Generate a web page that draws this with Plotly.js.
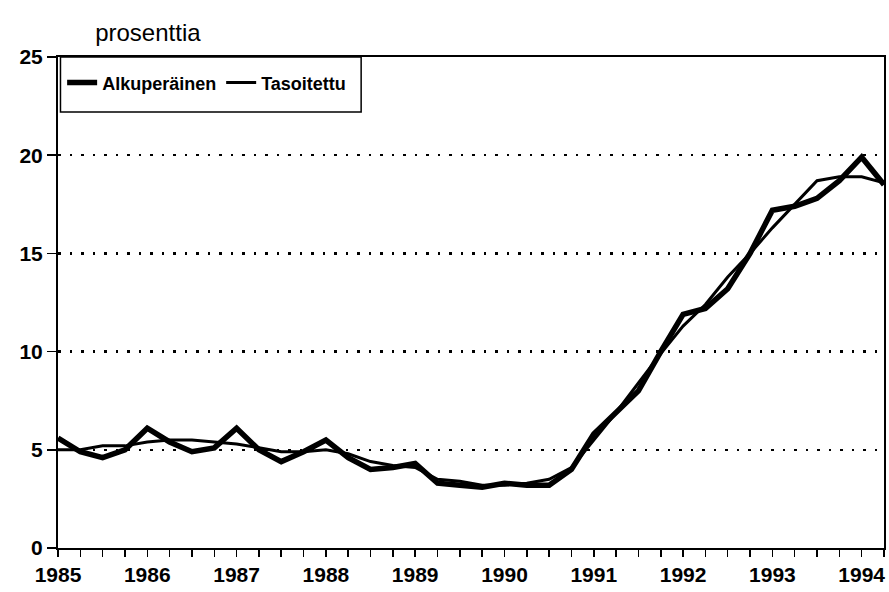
<!DOCTYPE html>
<html>
<head>
<meta charset="utf-8">
<script src="https://cdn.plot.ly/plotly-3.0.1.min.js"></script>
<style>html,body{margin:0;padding:0;background:#fff;}#chart{width:889px;height:592px;}</style>
</head>
<body>
<div id="chart"></div>
<script>
// Quarterly observations 1985Q1 .. 1994Q2
const quarters = [
  1985.00,1985.25,1985.50,1985.75,
  1986.00,1986.25,1986.50,1986.75,
  1987.00,1987.25,1987.50,1987.75,
  1988.00,1988.25,1988.50,1988.75,
  1989.00,1989.25,1989.50,1989.75,
  1990.00,1990.25,1990.50,1990.75,
  1991.00,1991.25,1991.50,1991.75,
  1992.00,1992.25,1992.50,1992.75,
  1993.00,1993.25,1993.50,1993.75,
  1994.00,1994.25
];
const alkuperainen = [
  5.6,4.9,4.6,5.0,
  6.1,5.4,4.9,5.1,
  6.1,5.0,4.4,4.9,
  5.5,4.6,4.0,4.1,
  4.3,3.3,3.2,3.1,
  3.3,3.2,3.2,4.0,
  5.8,6.9,8.0,10.0,
  11.9,12.2,13.2,15.0,
  17.2,17.4,17.8,18.7,
  19.9,18.5
];
const tasoitettu = [
  5.0,5.0,5.2,5.2,
  5.4,5.5,5.5,5.4,
  5.3,5.1,4.9,4.9,
  5.0,4.8,4.4,4.2,
  4.1,3.5,3.4,3.2,
  3.2,3.3,3.5,4.1,
  5.5,6.9,8.4,9.9,
  11.3,12.4,13.8,15.0,
  16.3,17.5,18.7,18.9,
  18.9,18.6
];
const yearTicks = [1985,1986,1987,1988,1989,1990,1991,1992,1993,1994];
const yearLabels = ['1985','1986','1987','1988','1989','1990','1991','1992','1993','1994'];
const seriesNames = ['Alkuperäinen','Tasoitettu'];

const font = 'Liberation Sans, Arial, Helvetica, sans-serif';

const traces = [
  {x: quarters, y: alkuperainen, name: seriesNames[0], type: 'scatter', mode: 'lines',
   line: {color: '#000', width: 5.5}},
  {x: quarters, y: tasoitettu, name: seriesNames[1], type: 'scatter', mode: 'lines',
   line: {color: '#000', width: 3}}
];

const layout = {
  width: 889, height: 592,
  margin: {l: 58, r: 5, t: 57, b: 44},
  paper_bgcolor: '#fff', plot_bgcolor: '#fff',
  font: {family: font, color: '#000'},
  title: {text: 'prosenttia', x: 0.045, xanchor: 'left', xref: 'paper', y: 1 - 33/592, yanchor: 'middle',
          font: {family: font, size: 24, color: '#000'}},
  showlegend: true,
  legend: {x: 0.005, y: 0.985, xanchor: 'left', yanchor: 'top', orientation: 'h',
           bgcolor: 'rgba(0,0,0,0)', borderwidth: 0, itemwidth: 30,
           font: {family: font, size: 18, color: '#000', weight: 'bold'}},
  shapes: [
    {type: 'rect', xref: 'paper', yref: 'paper', x0: 0.003, x1: 0.367, y0: 0.888, y1: 1,
     line: {color: '#000', width: 1.5}, fillcolor: 'rgba(0,0,0,0)'}
  ],
  xaxis: {
    range: [1985, 1994.25],
    tickvals: yearTicks, ticktext: yearLabels,
    ticks: 'outside', ticklen: 7, tickwidth: 1.5, tickcolor: '#000',
    minor: {dtick: 0.25, tick0: 1985, ticks: 'outside', ticklen: 7, tickwidth: 1.5, tickcolor: '#000', showgrid: false},
    showgrid: false, zeroline: false,
    showline: true, linecolor: '#000', linewidth: 2, mirror: true,
    tickfont: {family: font, size: 21, color: '#000', weight: 'bold'}
  },
  yaxis: {
    range: [0, 25], tickvals: [0,5,10,15,20,25],
    ticks: 'outside', ticklen: 9, tickwidth: 1.5, tickcolor: '#000',
    showgrid: true, gridcolor: '#000', griddash: '2.5px,9px', gridwidth: 2.5,
    zeroline: false,
    showline: true, linecolor: '#000', linewidth: 2, mirror: true,
    tickfont: {family: font, size: 21, color: '#000', weight: 'bold'}
  }
};

Plotly.newPlot('chart', traces, layout, {displayModeBar: false, staticPlot: true});
</script>
</body>
</html>
